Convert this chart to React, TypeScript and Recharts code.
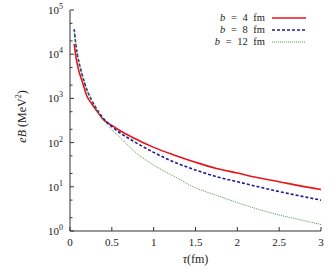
import { Legend, Line, LineChart, XAxis, YAxis } from "recharts";

// proper time tau (fm) and eB (MeV^2) for three impact parameters
const tau = [0.05, 0.075, 0.1, 0.15, 0.2, 0.25, 0.3, 0.4, 0.5, 0.6, 0.75, 1, 1.25, 1.5, 1.75, 2, 2.25, 2.5, 2.75, 3];
const b4 = [17000, 7800, 4600, 2300, 1150, 800, 590, 330, 245, 185, 130, 78, 52, 36, 26, 20.5, 16, 13, 10.5, 8.7];
const b8 = [37000, 14000, 7600, 3200, 1600, 980, 660, 350, 230, 165, 110, 60, 36, 24, 17, 13, 10, 7.8, 6.2, 5];
const b12 = [37000, 14000, 7600, 3200, 1600, 970, 640, 330, 195, 130, 68, 31, 17, 9.5, 6.4, 4.4, 3.1, 2.3, 1.8, 1.4];

const xTicks = [0, 0.5, 1, 1.5, 2, 2.5, 3];
const yTicks = [1, 2, 5, 10, 20, 50, 100, 200, 500, 1000, 2000, 5000, 10000, 20000, 50000, 100000];

const series = [
  { key: "b4", label: "4", color: "#e8141c", width: 1.6, dash: undefined },
  { key: "b8", label: "8", color: "#1c1c8e", width: 1.6, dash: "3 2" },
  { key: "b12", label: "12", color: "#4f9a48", width: 1, dash: "1 1" }
];

const data = tau.map((t, i) => ({ tau: t, b4: b4[i], b8: b8[i], b12: b12[i] }));

const font = "'Liberation Serif', 'DejaVu Serif', serif";
const ink = "#222";
const frame = "#333";

const isDecade = (v: number) => Math.abs(Math.log10(v) - Math.round(Math.log10(v))) < 1e-9;

const LeftTick = (props: any) => {
  const { x, y, payload } = props;
  const v = payload.value;
  const major = isDecade(v);
  const ax = x + 7;
  return (
    <g>
      <line x1={ax} x2={ax + (major ? 4 : 2.5)} y1={y} y2={y} stroke={frame} />
      {major && (
        <text x={x} y={y} dy={4} textAnchor="end" fontSize={11} fontFamily={font} fill={ink}>
          <tspan>10</tspan>
          <tspan dy={-5} fontSize={8}>{Math.round(Math.log10(v))}</tspan>
        </text>
      )}
    </g>
  );
};

const RightTick = (props: any) => {
  const { x, y, payload } = props;
  const major = isDecade(payload.value);
  return <line x1={x} x2={x - (major ? 4 : 2.5)} y1={y} y2={y} stroke={frame} />;
};

const BottomTick = (props: any) => {
  const { x, y, payload } = props;
  const ay = y - 7;
  return (
    <g>
      <line x1={x} x2={x} y1={ay} y2={ay - 4} stroke={frame} />
      <text x={x} y={y} dy="0.71em" textAnchor="middle" fontSize={11} fontFamily={font} fill={ink}>
        {payload.value}
      </text>
    </g>
  );
};

const TopTick = (props: any) => {
  const { x, y } = props;
  return <line x1={x} x2={x} y1={y} y2={y + 4} stroke={frame} />;
};

const YLabel = (props: any) => {
  const { viewBox } = props;
  const cx = viewBox.x + 22;
  const cy = viewBox.y + viewBox.height / 2 - 4;
  return (
    <text
      x={cx}
      y={cy}
      transform={`rotate(-90 ${cx} ${cy})`}
      textAnchor="middle"
      dy={4}
      fontSize={12}
      fontFamily={font}
      fill={ink}
    >
      <tspan fontStyle="italic">eB</tspan>
      <tspan> (MeV</tspan>
      <tspan dy={-5} fontSize={8}>2</tspan>
      <tspan dy={5}>)</tspan>
    </text>
  );
};

const XLabel = (props: any) => {
  const { viewBox } = props;
  return (
    <text
      x={viewBox.x + viewBox.width / 2}
      y={viewBox.y + 32}
      textAnchor="middle"
      fontSize={12}
      fontFamily={font}
      fill={ink}
    >
      <tspan fontStyle="italic">τ</tspan>
      <tspan>(fm)</tspan>
    </text>
  );
};

const LegendBox = () => (
  <div style={{ fontFamily: font, color: ink }}>
    {series.map((s) => (
      <div
        key={s.key}
        style={{ display: "flex", alignItems: "center", justifyContent: "flex-end", height: 12 }}
      >
        <span style={{ fontSize: 10.5, wordSpacing: 3, lineHeight: "12px", whiteSpace: "nowrap" }}>
          <i>b</i> = {s.label} fm
        </span>
        <svg width={34} height={6} style={{ marginLeft: 7 }}>
          <line x1={0} x2={34} y1={3} y2={3} stroke={s.color} strokeWidth={s.width} strokeDasharray={s.dash} />
        </svg>
      </div>
    ))}
  </div>
);

export default function App() {
  return (
    <div style={{ position: "absolute", left: 0, top: 0, background: "#fff" }}>
      <LineChart width={336} height={270} data={data} margin={{ top: 10, right: 15, bottom: 0, left: 0 }}>
        <XAxis
          dataKey="tau"
          type="number"
          domain={[0, 3]}
          ticks={xTicks}
          interval={0}
          height={39}
          tickSize={0}
          tickMargin={7}
          tick={<BottomTick />}
          tickLine={false}
          axisLine={{ stroke: frame }}
          label={<XLabel />}
        />
        <XAxis
          xAxisId="top"
          dataKey="tau"
          type="number"
          orientation="top"
          domain={[0, 3]}
          ticks={xTicks}
          interval={0}
          height={0}
          tickSize={0}
          tickMargin={0}
          tick={<TopTick />}
          tickLine={false}
          axisLine={{ stroke: frame }}
        />
        <YAxis
          scale="log"
          domain={[1, 100000]}
          allowDataOverflow
          ticks={yTicks}
          interval={0}
          width={70}
          tickSize={0}
          tickMargin={7}
          tick={<LeftTick />}
          tickLine={false}
          axisLine={{ stroke: frame }}
          label={<YLabel />}
        />
        <YAxis
          yAxisId="right"
          orientation="right"
          scale="log"
          domain={[1, 100000]}
          allowDataOverflow
          ticks={yTicks}
          interval={0}
          width={0}
          tickSize={0}
          tickMargin={0}
          tick={<RightTick />}
          tickLine={false}
          axisLine={{ stroke: frame }}
        />
        <Legend
          layout="vertical"
          align="center"
          verticalAlign="middle"
          content={<LegendBox />}
          wrapperStyle={{ position: "absolute", top: 12, right: 30, width: "auto", height: "auto" }}
        />
        {series.map((s) => (
          <Line
            key={s.key}
            type="monotone"
            dataKey={s.key}
            stroke={s.color}
            strokeWidth={s.width}
            strokeDasharray={s.dash}
            dot={false}
            activeDot={false}
            isAnimationActive={false}
          />
        ))}
      </LineChart>
    </div>
  );
}
